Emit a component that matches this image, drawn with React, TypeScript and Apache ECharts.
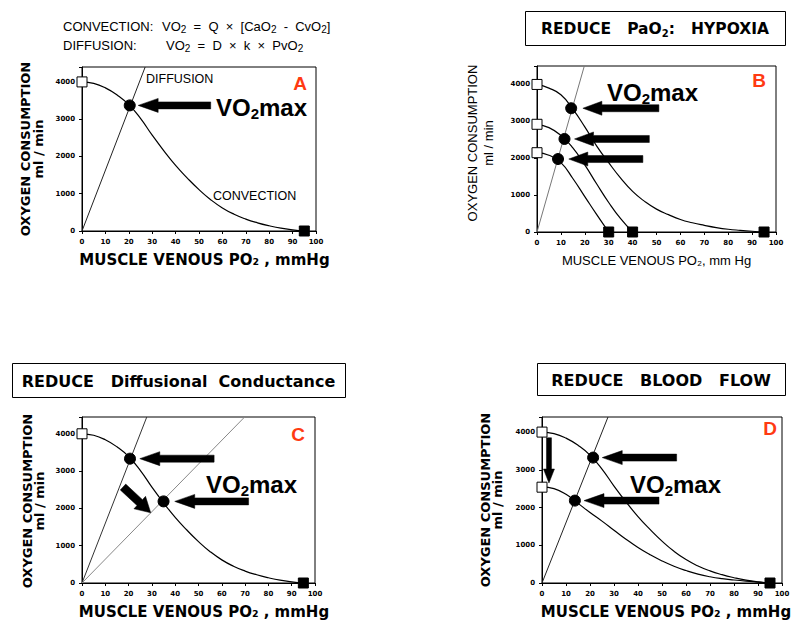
import React, { useEffect, useRef } from "react";
import * as echarts from "echarts";

// ---------- DATA ----------
const PO2 = [0, 5, 10, 15, 20, 25, 30, 35, 40, 45, 50, 55, 60, 65, 70, 75, 80, 85, 90, 95];
const CONV_NORMAL = [4000, 3960, 3840, 3650, 3390, 3020, 2570, 2150, 1760, 1420, 1110, 840, 620, 450, 320, 220, 140, 75, 30, 0];
const CONV_B_NORMOXIA = [4000, 3900, 3720, 3330, 2850, 2330, 1880, 1460, 1100, 830, 620, 470, 340, 250, 180, 120, 75, 45, 20, 0];
const PO2_B_MILD = [0, 5, 10, 15, 20, 25, 30, 35, 40];
const CONV_B_MILD = [2920, 2830, 2620, 2280, 1820, 1300, 800, 360, 0];
const PO2_B_SEVERE = [0, 5, 10, 15, 20, 25, 30];
const CONV_B_SEVERE = [2150, 2080, 1880, 1450, 960, 470, 0];
const CONV_D_LOWFLOW = [2550, 2500, 2350, 2110, 1870, 1640, 1400, 1160, 940, 750, 585, 445, 330, 235, 165, 115, 80, 50, 25, 0];

const DIFF_A = [[0, 0], [27, 4400]];
const DIFF_B = [[0, 0], [19.8, 4500]];
const DIFF_C_NORMAL = [[0, 0], [27.8, 4450]];
const DIFF_C_REDUCED = [[0, 0], [69.8, 4450]];
const DIFF_D = [[0, 0], [27.5, 4400]];

const ARTERIAL_A = [[0, 4000]];
const VO2MAX_A = [[20.4, 3370]];
const VENOUS_A = [[95, 0]];
const ARTERIAL_B = [[0, 4000], [0, 2920], [0, 2150]];
const VO2MAX_B = [[14.3, 3355], [11.5, 2522], [8.8, 1978]];
const VENOUS_B = [[30, 0], [40, 0], [95, 0]];
const ARTERIAL_C = [[0, 4000]];
const VO2MAX_C = [[20.6, 3333], [35, 2188]];
const VENOUS_C = [[95, 0]];
const ARTERIAL_D = [[0, 4000], [0, 2540]];
const VO2MAX_D = [[21.3, 3324], [13.7, 2184]];
const VENOUS_D = [[95, 0]];

const X_TICKS = [0, 10, 20, 30, 40, 50, 60, 70, 80, 90, 100];
const Y_TICKS = [0, 1000, 2000, 3000, 4000];
const Y_MAX = [4400, 4500, 4450, 4400];

// arrows in data coordinates: [grid, tail, tip, shaft, headWidth, headLength]
const ARROWS: [number, number[], number[], number, number, number][] = [
  [0, [55, 3370], [24, 3370], 7, 14, 20],
  [1, [51, 3355], [19.2, 3355], 7, 14, 19],
  [1, [47, 2522], [15.7, 2522], 7, 14, 19],
  [1, [44.3, 1978], [13.3, 1978], 7, 14, 19],
  [2, [56.7, 3333], [24.8, 3333], 7, 14, 20],
  [2, [71.5, 2188], [39.8, 2188], 7, 14, 20],
  [2, [17.6, 2573], [29.5, 1882], 8, 17, 15],
  [3, [56.1, 3324], [25.1, 3324], 7, 14, 20],
  [3, [48.75, 2184], [17.5, 2184], 7, 14, 20],
  [3, [2.9, 3850], [2.9, 2650], 5, 11, 14],
];

// ---------- LAYOUT ----------
const GRIDS = [
  { left: 82, top: 67, width: 234, height: 164 },
  { left: 537, top: 66, width: 239, height: 166 },
  { left: 82, top: 417, width: 233, height: 166 },
  { left: 542, top: 417, width: 240, height: 166 },
];
const X_NAME_SHIFT = [11, 0, 11, 8];

const BOLD_FONT = "'DejaVu Sans', sans-serif";
const PLAIN_FONT = "'Liberation Sans', Arial, sans-serif";
const NARROW_FONT = "'Liberation Sans Narrow', 'Liberation Sans', sans-serif";
const RED = "#ff3a12";

function pairs(xs: number[], ys: number[]) {
  return xs.map((x, i) => [x, ys[i]]);
}

function lineSeries(name: string, grid: number, data: number[][], color = "#000", width = 1.2, smooth = true) {
  return {
    name,
    type: "line",
    xAxisIndex: grid,
    yAxisIndex: grid,
    data,
    smooth,
    symbol: "none",
    showSymbol: false,
    lineStyle: { color, width },
    z: 2,
    silent: true,
  };
}

function scatterSeries(name: string, grid: number, data: number[][], kind: "white" | "black" | "dot") {
  return {
    name,
    type: "scatter",
    xAxisIndex: grid,
    yAxisIndex: grid,
    data,
    clip: false,
    symbol: kind === "dot" ? "circle" : "rect",
    symbolSize: kind === "dot" ? 11 : 10,
    itemStyle: {
      color: kind === "white" ? "#fff" : "#000",
      borderColor: "#000",
      borderWidth: 1,
      opacity: 1,
    },
    z: 5,
    silent: true,
  };
}

function arrowPoints(tail: number[], tip: number[], shaft: number, headW: number, headL: number) {
  const dx = tip[0] - tail[0];
  const dy = tip[1] - tail[1];
  const len = Math.hypot(dx, dy) || 1;
  const ux = dx / len, uy = dy / len;
  const nx = -uy, ny = ux;
  const bx = tip[0] - ux * headL, by = tip[1] - uy * headL;
  return [
    [tail[0] + (nx * shaft) / 2, tail[1] + (ny * shaft) / 2],
    [bx + (nx * shaft) / 2, by + (ny * shaft) / 2],
    [bx + (nx * headW) / 2, by + (ny * headW) / 2],
    [tip[0], tip[1]],
    [bx - (nx * headW) / 2, by - (ny * headW) / 2],
    [bx - (nx * shaft) / 2, by - (ny * shaft) / 2],
    [tail[0] - (nx * shaft) / 2, tail[1] - (ny * shaft) / 2],
  ];
}

const tickLabel = {
  fontSize: 7,
  fontWeight: "bold",
  fontFamily: BOLD_FONT,
  color: "#000",
  margin: 7,
};

function xAxis(grid: number, boldName: boolean) {
  return {
    gridIndex: grid,
    type: "value",
    min: X_TICKS[0],
    max: X_TICKS[X_TICKS.length - 1],
    interval: X_TICKS[1] - X_TICKS[0],
    axisLine: { show: true, lineStyle: { color: "#000", width: 1 } },
    axisTick: { show: true, length: 3, lineStyle: { color: "#000" } },
    axisLabel: tickLabel,
    splitLine: { show: false },
    name: boldName ? "MUSCLE VENOUS PO\u2082 , mmHg" : "MUSCLE VENOUS PO\u2082, mm Hg",
    nameLocation: "middle",
    nameGap: boldName ? 21 : 22,
    nameTextStyle: boldName
      ? { fontFamily: BOLD_FONT, fontWeight: "bold", fontSize: 15, color: "#000", padding: [0, 0, 0, X_NAME_SHIFT[grid]] }
      : { fontFamily: PLAIN_FONT, fontSize: 13, color: "#000", padding: [0, 0, 0, X_NAME_SHIFT[grid]] },
  };
}

function yAxis(grid: number) {
  return {
    gridIndex: grid,
    type: "value",
    min: Y_TICKS[0],
    max: Y_MAX[grid],
    interval: Y_TICKS[1] - Y_TICKS[0],
    axisLine: { show: true, lineStyle: { color: "#000", width: 1 } },
    axisTick: { show: true, length: 3, lineStyle: { color: "#000" } },
    axisLabel: {
      ...tickLabel,
      formatter: (v: number) => (Y_TICKS.indexOf(v) >= 0 ? String(v) : ""),
    },
    splitLine: { show: false },
  };
}

function vText(x: number, y: number, text: string, font: string) {
  return {
    type: "text",
    x,
    y,
    rotation: Math.PI / 2,
    style: { text, font, fill: "#000", align: "center", verticalAlign: "middle" },
    silent: true,
  };
}

function plainText(x: number, y: number, text: string, font: string, fill = "#000", align = "left") {
  return {
    type: "text",
    x,
    y,
    style: { text, font, fill, align, verticalAlign: "middle" },
    silent: true,
  };
}

const subRich = (size: number, subSize: number, family: string, weight: string) => ({
  n: { fontSize: size, fontFamily: family, fontWeight: weight, lineHeight: size + 4, verticalAlign: "middle", fill: "#000", color: "#000" },
  s: { fontSize: subSize, fontFamily: family, fontWeight: weight, lineHeight: subSize, verticalAlign: "bottom", fill: "#000", color: "#000" },
});

function richText(x: number, y: number, text: string, rich: any) {
  return {
    type: "text",
    x,
    y,
    style: { text, rich, align: "left", verticalAlign: "middle", fill: "#000" },
    silent: true,
  };
}

function titleBox(x: number, y: number, w: number, h: number, text: string, rich: any) {
  return [
    {
      type: "rect",
      shape: { x: x + 0.5, y: y + 0.5, width: w, height: h },
      style: { fill: "#fff", stroke: "#000", lineWidth: 1 },
      silent: true,
    },
    {
      type: "text",
      x: x + w / 2,
      y: y + h / 2 + 1,
      style: { text, rich, align: "center", verticalAlign: "middle", fill: "#000" },
      silent: true,
    },
  ];
}

function vo2max(x: number, y: number) {
  return richText(x, y, "{n|VO}{s|2}{n|max}", subRich(24, 15, PLAIN_FONT, "bold"));
}

const STATIC_GRAPHICS: any[] = [
  // formulas
  plainText(63, 26, "CONVECTION:", `13px ${NARROW_FONT}`),
  richText(162, 26, "{n|VO}{s|2}{n|  =  Q  \u00d7  [CaO}{s|2}{n|  -  CvO}{s|2}{n|]}", subRich(13, 10, NARROW_FONT, "normal")),
  plainText(63, 45, "DIFFUSION:", `13px ${NARROW_FONT}`),
  richText(166, 45, "{n|VO}{s|2}{n|  =  D  \u00d7  k  \u00d7  PvO}{s|2}", subRich(13, 10, NARROW_FONT, "normal")),
  // title boxes
  ...titleBox(525, 11, 260, 34, "{n|REDUCE   PaO}{s|2}{n|:   HYPOXIA}", subRich(15.5, 10, BOLD_FONT, "bold")),
  ...titleBox(12, 363, 333, 34, "{n|REDUCE   Diffusional  Conductance}", subRich(16, 10, BOLD_FONT, "bold")),
  ...titleBox(537, 363, 248, 32, "{n|REDUCE   BLOOD   FLOW}", subRich(16, 10, BOLD_FONT, "bold")),
  // y axis titles
  vText(25, 149, "OXYGEN CONSUMPTION", `bold 13px ${BOLD_FONT}`),
  vText(38, 149, "ml / min", `bold 13px ${BOLD_FONT}`),
  vText(472, 143, "OXYGEN CONSUMPTION", `13px ${PLAIN_FONT}`),
  vText(488, 143, "ml / min", `13px ${PLAIN_FONT}`),
  vText(27, 501, "OXYGEN CONSUMPTION", `bold 13px ${BOLD_FONT}`),
  vText(39, 501, "ml / min", `bold 13px ${BOLD_FONT}`),
  vText(485, 500, "OXYGEN CONSUMPTION", `bold 13px ${BOLD_FONT}`),
  vText(497, 500, "ml / min", `bold 13px ${BOLD_FONT}`),
  // curve labels
  plainText(146, 79, "DIFFUSION", `12.5px ${PLAIN_FONT}`),
  plainText(213, 196, "CONVECTION", `12.5px ${PLAIN_FONT}`),
  // VO2max labels
  vo2max(216, 107),
  vo2max(607, 92),
  vo2max(206, 484),
  vo2max(630, 484),
  // panel letters
  plainText(300, 83, "A", `bold 19px ${PLAIN_FONT}`, RED, "center"),
  plainText(759, 80, "B", `bold 19px ${PLAIN_FONT}`, RED, "center"),
  plainText(298, 434, "C", `bold 19px ${PLAIN_FONT}`, RED, "center"),
  plainText(770, 428, "D", `bold 19px ${PLAIN_FONT}`, RED, "center"),
];

function buildOption() {
  return {
    animation: false,
    backgroundColor: "#fff",
    grid: GRIDS.map((g) => ({ ...g, show: true, borderColor: "#000", borderWidth: 1, backgroundColor: "transparent", containLabel: false })),
    xAxis: [xAxis(0, true), xAxis(1, false), xAxis(2, true), xAxis(3, true)],
    yAxis: [yAxis(0), yAxis(1), yAxis(2), yAxis(3)],
    series: [
      // A
      lineSeries("Convection", 0, pairs(PO2, CONV_NORMAL)),
      lineSeries("Diffusion", 0, DIFF_A, "#222", 1, false),
      scatterSeries("Arterial", 0, ARTERIAL_A, "white"),
      scatterSeries("VO2max", 0, VO2MAX_A, "dot"),
      scatterSeries("Venous", 0, VENOUS_A, "black"),
      // B
      lineSeries("Convection normoxia", 1, pairs(PO2, CONV_B_NORMOXIA)),
      lineSeries("Convection mild hypoxia", 1, pairs(PO2_B_MILD, CONV_B_MILD)),
      lineSeries("Convection severe hypoxia", 1, pairs(PO2_B_SEVERE, CONV_B_SEVERE)),
      lineSeries("Diffusion", 1, DIFF_B, "#777", 1, false),
      scatterSeries("Arterial", 1, ARTERIAL_B, "white"),
      scatterSeries("VO2max", 1, VO2MAX_B, "dot"),
      scatterSeries("Venous", 1, VENOUS_B, "black"),
      // C
      lineSeries("Convection", 2, pairs(PO2, CONV_NORMAL)),
      lineSeries("Diffusion normal", 2, DIFF_C_NORMAL, "#333", 1, false),
      lineSeries("Diffusion reduced", 2, DIFF_C_REDUCED, "#888", 1, false),
      scatterSeries("Arterial", 2, ARTERIAL_C, "white"),
      scatterSeries("VO2max", 2, VO2MAX_C, "dot"),
      scatterSeries("Venous", 2, VENOUS_C, "black"),
      // D
      lineSeries("Convection normal flow", 3, pairs(PO2, CONV_NORMAL)),
      lineSeries("Convection reduced flow", 3, pairs(PO2, CONV_D_LOWFLOW)),
      lineSeries("Diffusion", 3, DIFF_D, "#222", 1, false),
      scatterSeries("Arterial", 3, ARTERIAL_D, "white"),
      scatterSeries("VO2max", 3, VO2MAX_D, "dot"),
      scatterSeries("Venous", 3, VENOUS_D, "black"),
    ],
  };
}

export default function App() {
  const ref = useRef<HTMLDivElement>(null);
  useEffect(() => {
    if (!ref.current) return;
    const chart = echarts.init(ref.current, null, { renderer: "svg" });
    chart.setOption(buildOption() as any);
    const arrows = ARROWS.map(([grid, tail, tip, shaft, hw, hl]) => {
      const t0 = chart.convertToPixel({ gridIndex: grid } as any, tail) as number[];
      const t1 = chart.convertToPixel({ gridIndex: grid } as any, tip) as number[];
      return {
        type: "polygon",
        shape: { points: arrowPoints(t0, t1, shaft, hw, hl) },
        style: { fill: "#000", stroke: "#000", lineWidth: 0.5 },
        z: 10,
        silent: true,
      };
    });
    chart.setOption({ graphic: [...STATIC_GRAPHICS, ...arrows] } as any);
    return () => chart.dispose();
  }, []);
  return (
    <div
      ref={ref}
      style={{ position: "absolute", left: 0, top: 0, width: 800, height: 636, background: "#fff" }}
    />
  );
}
